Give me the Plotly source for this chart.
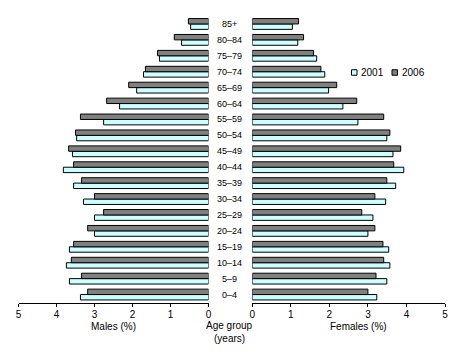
import plotly.graph_objects as go

ages = ["0–4", "5–9", "10–14", "15–19", "20–24", "25–29", "30–34", "35–39", "40–44",
        "45–49", "50–54", "55–59", "60–64", "65–69", "70–74", "75–79", "80–84", "85+"]
males_2001 = [3.37, 3.66, 3.74, 3.66, 3.00, 3.00, 3.29, 3.55, 3.82,
              3.58, 3.47, 2.76, 2.34, 1.89, 1.71, 1.29, 0.71, 0.47]
males_2006 = [3.18, 3.34, 3.61, 3.55, 3.18, 2.76, 3.00, 3.34, 3.55,
              3.68, 3.50, 3.37, 2.68, 2.10, 1.66, 1.34, 0.90, 0.53]
females_2001 = [3.23, 3.49, 3.57, 3.54, 3.00, 3.13, 3.46, 3.72, 3.93,
                3.65, 3.49, 2.74, 2.35, 1.98, 1.88, 1.67, 1.18, 1.04]
females_2006 = [3.00, 3.21, 3.41, 3.39, 3.18, 2.84, 3.18, 3.49, 3.67,
                3.85, 3.57, 3.41, 2.71, 2.19, 1.78, 1.59, 1.33, 1.20]
tick_vals = [0, 1, 2, 3, 4, 5]
series_names = ["2001", "2006"]

C2001 = "#CCFFFF"
C2006 = "#808080"
line = dict(color="black", width=1)
FONT = "Liberation Sans"
W, H = 457, 354

fig = go.Figure()
fig.add_trace(go.Bar(y=ages, x=males_2001, orientation="h", name=series_names[0],
                     marker=dict(color=C2001, line=line), xaxis="x", yaxis="y"))
fig.add_trace(go.Bar(y=ages, x=males_2006, orientation="h", name=series_names[1],
                     marker=dict(color=C2006, line=line), xaxis="x", yaxis="y"))
fig.add_trace(go.Bar(y=ages, x=females_2001, orientation="h", name=series_names[0],
                     marker=dict(color=C2001, line=line), xaxis="x2", yaxis="y2"))
fig.add_trace(go.Bar(y=ages, x=females_2006, orientation="h", name=series_names[1],
                     marker=dict(color=C2006, line=line), xaxis="x2", yaxis="y2"))

ydom = [(H - 302.5) / H, (H - 16) / H]
xcommon = dict(showgrid=False, zeroline=False, showline=True, linecolor="black",
               linewidth=1, ticks="outside", ticklen=3, tickcolor="black",
               ticklabelstandoff=-1,
               tickvals=tick_vals, tickfont=dict(size=10, family=FONT, color="black"))
fig.update_layout(
    width=W, height=H,
    margin=dict(l=0, r=0, t=0, b=0, autoexpand=False),
    paper_bgcolor="white", plot_bgcolor="white",
    barmode="group", bargap=0.32, bargroupgap=0,
    font=dict(family=FONT, size=10, color="black"),
    xaxis=dict(domain=[18.5 / W, 208.5 / W], range=[5, 0], **xcommon),
    xaxis2=dict(domain=[252.3 / W, 445 / W], range=[0, 5], **xcommon),
    yaxis=dict(domain=ydom, anchor="x", showticklabels=False, showgrid=False,
               zeroline=False, showline=False, range=[-0.5, 17.5]),
    yaxis2=dict(domain=ydom, anchor="x2", showticklabels=False, showgrid=False,
                zeroline=False, showline=False, range=[-0.5, 17.5]),
    showlegend=False,
)

ann = []
for a in ages:
    ann.append(dict(x=230 / W, xref="paper", y=a, yref="y", text=a,
                    showarrow=False, font=dict(size=9, family=FONT),
                    xanchor="center", yanchor="middle"))
ann.append(dict(x=113 / W, y=1 - 326.5 / H, xref="paper", yref="paper",
                text="Males (%)", showarrow=False, xanchor="center", yanchor="middle",
                font=dict(size=10, family=FONT)))
ann.append(dict(x=358 / W, y=1 - 326.5 / H, xref="paper", yref="paper",
                text="Females (%)", showarrow=False, xanchor="center", yanchor="middle",
                font=dict(size=10, family=FONT)))
ann.append(dict(x=230 / W, y=1 - 325.5 / H, xref="paper", yref="paper",
                text="Age group", showarrow=False,
                xanchor="center", yanchor="middle",
                font=dict(size=10, family=FONT)))
ann.append(dict(x=230 / W, y=1 - 338.5 / H, xref="paper", yref="paper",
                text="(years)", showarrow=False,
                xanchor="center", yanchor="middle",
                font=dict(size=10, family=FONT)))

# legend keys (small boxes + text)
shapes = []
leg_y = 72.5
for (bx, tx, col, nm) in [(351.5, 359, C2001, series_names[0]),
                          (392, 399.5, C2006, series_names[1])]:
    shapes.append(dict(type="rect", xref="paper", yref="paper",
                       x0=bx / W, x1=(bx + 5.5) / W,
                       y0=1 - (leg_y + 2.75) / H, y1=1 - (leg_y - 2.75) / H,
                       fillcolor=col, line=dict(color="black", width=1)))
    ann.append(dict(x=tx / W, y=1 - leg_y / H, xref="paper", yref="paper",
                    text=nm, showarrow=False, xanchor="left", yanchor="middle",
                    font=dict(size=10, family=FONT)))
fig.update_layout(annotations=ann, shapes=shapes)

fig.write_html("out.html")
